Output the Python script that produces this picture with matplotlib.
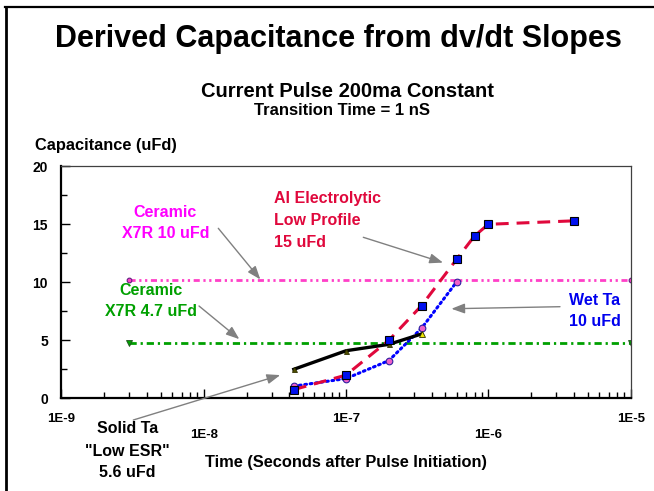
import matplotlib
matplotlib.use("Agg")
import matplotlib.pyplot as plt
from matplotlib.lines import Line2D
from matplotlib.ticker import FixedLocator, NullFormatter

# ---------------- data ----------------
cer10_x = [3e-9, 1e-5]
cer10_y = [10.2, 10.2]

cer47_x = [3e-9, 1e-5]
cer47_y = [4.75, 4.75]

solid_x = [4.3e-8, 1e-7, 2e-7, 3.4e-7]
solid_y = [2.5, 4.1, 4.65, 5.55]

wet_x = [4.3e-8, 1e-7, 2e-7, 3.4e-7, 6e-7]
wet_y = [1.05, 1.7, 3.25, 6.05, 10.05]

al_x = [4.3e-8, 1e-7, 2e-7, 3.4e-7, 6e-7, 8e-7, 1e-6, 4e-6]
al_y = [0.75, 2.0, 5.0, 8.0, 12.0, 14.0, 15.0, 15.3]

xtick_vals = [1e-9, 1e-8, 1e-7, 1e-6, 1e-5]
xtick_labels = ["1E-9", "1E-8", "1E-7", "1E-6", "1E-5"]
ytick_vals = [0, 5, 10, 15, 20]
ytick_labels = ["0", "5", "10", "15", "20"]

# ---------------- figure ----------------
W, H = 654, 491
plt.rcParams['font.family'] = ['Liberation Sans', 'DejaVu Sans']
plt.rcParams['font.weight'] = 'bold'
fig = plt.figure(figsize=(W / 100, H / 100), dpi=100)


def fx(px):
    return px / W


def fy(py):
    return 1 - py / H


ax_l, ax_r, ax_t, ax_b = 61.3, 630.7, 166.3, 398.3
ax = fig.add_axes([fx(ax_l), fy(ax_b), fx(ax_r - ax_l), (ax_b - ax_t) / H])
ax.set_xscale('log')
ax.set_xlim(1e-9, 1e-5)
ax.set_ylim(0, 20)

# series
ax.plot(cer10_x, cer10_y, color='#FF40C8', lw=2.0,
        dashes=(2.2, 1.3, 0.8, 1.3, 0.8, 1.3),
        marker='o', ms=3.4, mfc='#FF40C8', mec='#602080', mew=0.8, zorder=2)
ax.plot(cer47_x, cer47_y, color='#00A000', lw=2.0, dashes=(2.6, 1.4, 0.8, 1.4),
        marker='v', ms=3.8, mfc='#00A000', mec='#205020', mew=0.6, zorder=2)
ax.plot(wet_x, wet_y, color='#0000FF', lw=2.2, linestyle=(0, (0.6, 1.2)),
        dash_capstyle='round', marker='o', ms=4.8, mfc='#F060C8', mec='#3020A0',
        mew=0.8, zorder=3)
ax.plot(solid_x, solid_y, color='black', lw=2.4, zorder=4)
ax.plot(solid_x[:-1], solid_y[:-1], linestyle='none', marker='^', ms=3.6,
        mfc='#505000', mec='#303000', mew=0.6, zorder=4)
ax.plot(solid_x[-1:], solid_y[-1:], linestyle='none', marker='^', ms=4.4,
        mfc='#F0E800', mec='#303000', mew=0.6, zorder=4)
ax.plot(al_x, al_y, color='#E0083C', lw=2.2, dashes=(4.2, 2.6),
        marker='s', ms=5.2, mfc='#0010F0', mec='black', mew=0.8, zorder=5)

# spines
for s in ('top', 'right'):
    ax.spines[s].set_linewidth(0.9)
    ax.spines[s].set_color('#404040')
for s in ('left', 'bottom'):
    ax.spines[s].set_linewidth(1.6)
    ax.spines[s].set_color('black')

# ticks
ax.xaxis.set_major_locator(FixedLocator(xtick_vals))
ax.set_xticks(xtick_vals, xtick_labels)
ax.xaxis.set_minor_locator(FixedLocator(
    [m * 10.0 ** e for e in range(-9, -5) for m in range(2, 10)]))
ax.xaxis.set_minor_formatter(NullFormatter())
ax.set_yticks(ytick_vals, ytick_labels)
ax.yaxis.set_minor_locator(FixedLocator([2.5, 7.5, 12.5, 17.5]))
ax.tick_params(axis='both', which='major', direction='in', length=6.5, width=1.0,
               labelsize=9.5, top=False, right=False)
ax.tick_params(axis='y', which='major', labelsize=10)
ax.tick_params(axis='both', which='minor', direction='in', length=4, width=1.0,
               top=False, right=False)
ax.tick_params(axis='y', which='major', pad=9.5)
for lab in ax.get_xticklabels() + ax.get_yticklabels():
    lab.set_fontweight('bold')
for i, t in enumerate(ax.xaxis.get_major_ticks()):
    t.set_pad(10.5 if i % 2 == 0 else 22)

# titles and labels
fig.text(fx(338), fy(46.7), "Derived Capacitance from dv/dt Slopes", ha='center',
         va='baseline', fontsize=22, fontweight='bold')
fig.text(fx(347.8), fy(96.7), "Current Pulse 200ma Constant", ha='center',
         va='baseline', fontsize=14.5, fontweight='bold')
fig.text(fx(342), fy(115), "Transition Time = 1 nS", ha='center',
         va='baseline', fontsize=12, fontweight='bold')
fig.text(fx(35), fy(150), "Capacitance (uFd)", ha='left', va='baseline',
         fontsize=11.8, fontweight='bold')
fig.text(fx(346), fy(466.7), "Time (Seconds after Pulse Initiation)", ha='center',
         va='baseline', fontsize=11.8, fontweight='bold')

# annotations
arrow_kw = dict(arrowstyle='-|>,head_length=0.8,head_width=0.3', color='#808080',
                lw=1.0, shrinkA=0, shrinkB=0)


def note(lines, color, cx, baselines, ha='center'):
    for txt, b in zip(lines, baselines):
        fig.text(fx(cx), fy(b), txt, ha=ha, va='baseline', fontsize=11.5,
                 fontweight='bold', color=color)


def arrow(tail_px, tip_data):
    ax.annotate('', xy=tip_data, xycoords='data',
                xytext=(fx(tail_px[0]), fy(tail_px[1])), textcoords='figure fraction',
                arrowprops=arrow_kw, annotation_clip=False)


note(["Ceramic", "X7R 10 uFd"], '#FF00FF', 165.5, [216.7, 238.3])
arrow((218.3, 228.3), (2.5e-8, 10.25))

note(["Ceramic", "X7R 4.7 uFd"], '#00A000', 151, [295, 316])
arrow((199, 306), (1.78e-8, 5.1))

note(["Al Electrolytic", "Low Profile", "15 uFd"], '#E0083C', 274.3,
     [203.3, 225, 246.7], ha='left')
arrow((363.3, 237.3), (4.8e-7, 11.7))

note(["Wet Ta", "10 uFd"], '#0000EE', 595, [305, 326])
arrow((560, 306.7), (5.5e-7, 7.72))

note(["Solid Ta", "\"Low ESR\"", "5.6 uFd"], 'black', 127.5, [433.3, 456, 476.7])
arrow((133.3, 420), (3.45e-8, 2.0))

# figure frame (left and top edges)
fig.add_artist(Line2D([fx(6), fx(6)], [0, fy(6.5)], color='black', lw=2.0,
                      transform=fig.transFigure))
fig.add_artist(Line2D([fx(5.3), 1], [fy(6.5), fy(6.5)], color='black', lw=1.6,
                      transform=fig.transFigure))

fig.savefig("out.png", dpi=100)
